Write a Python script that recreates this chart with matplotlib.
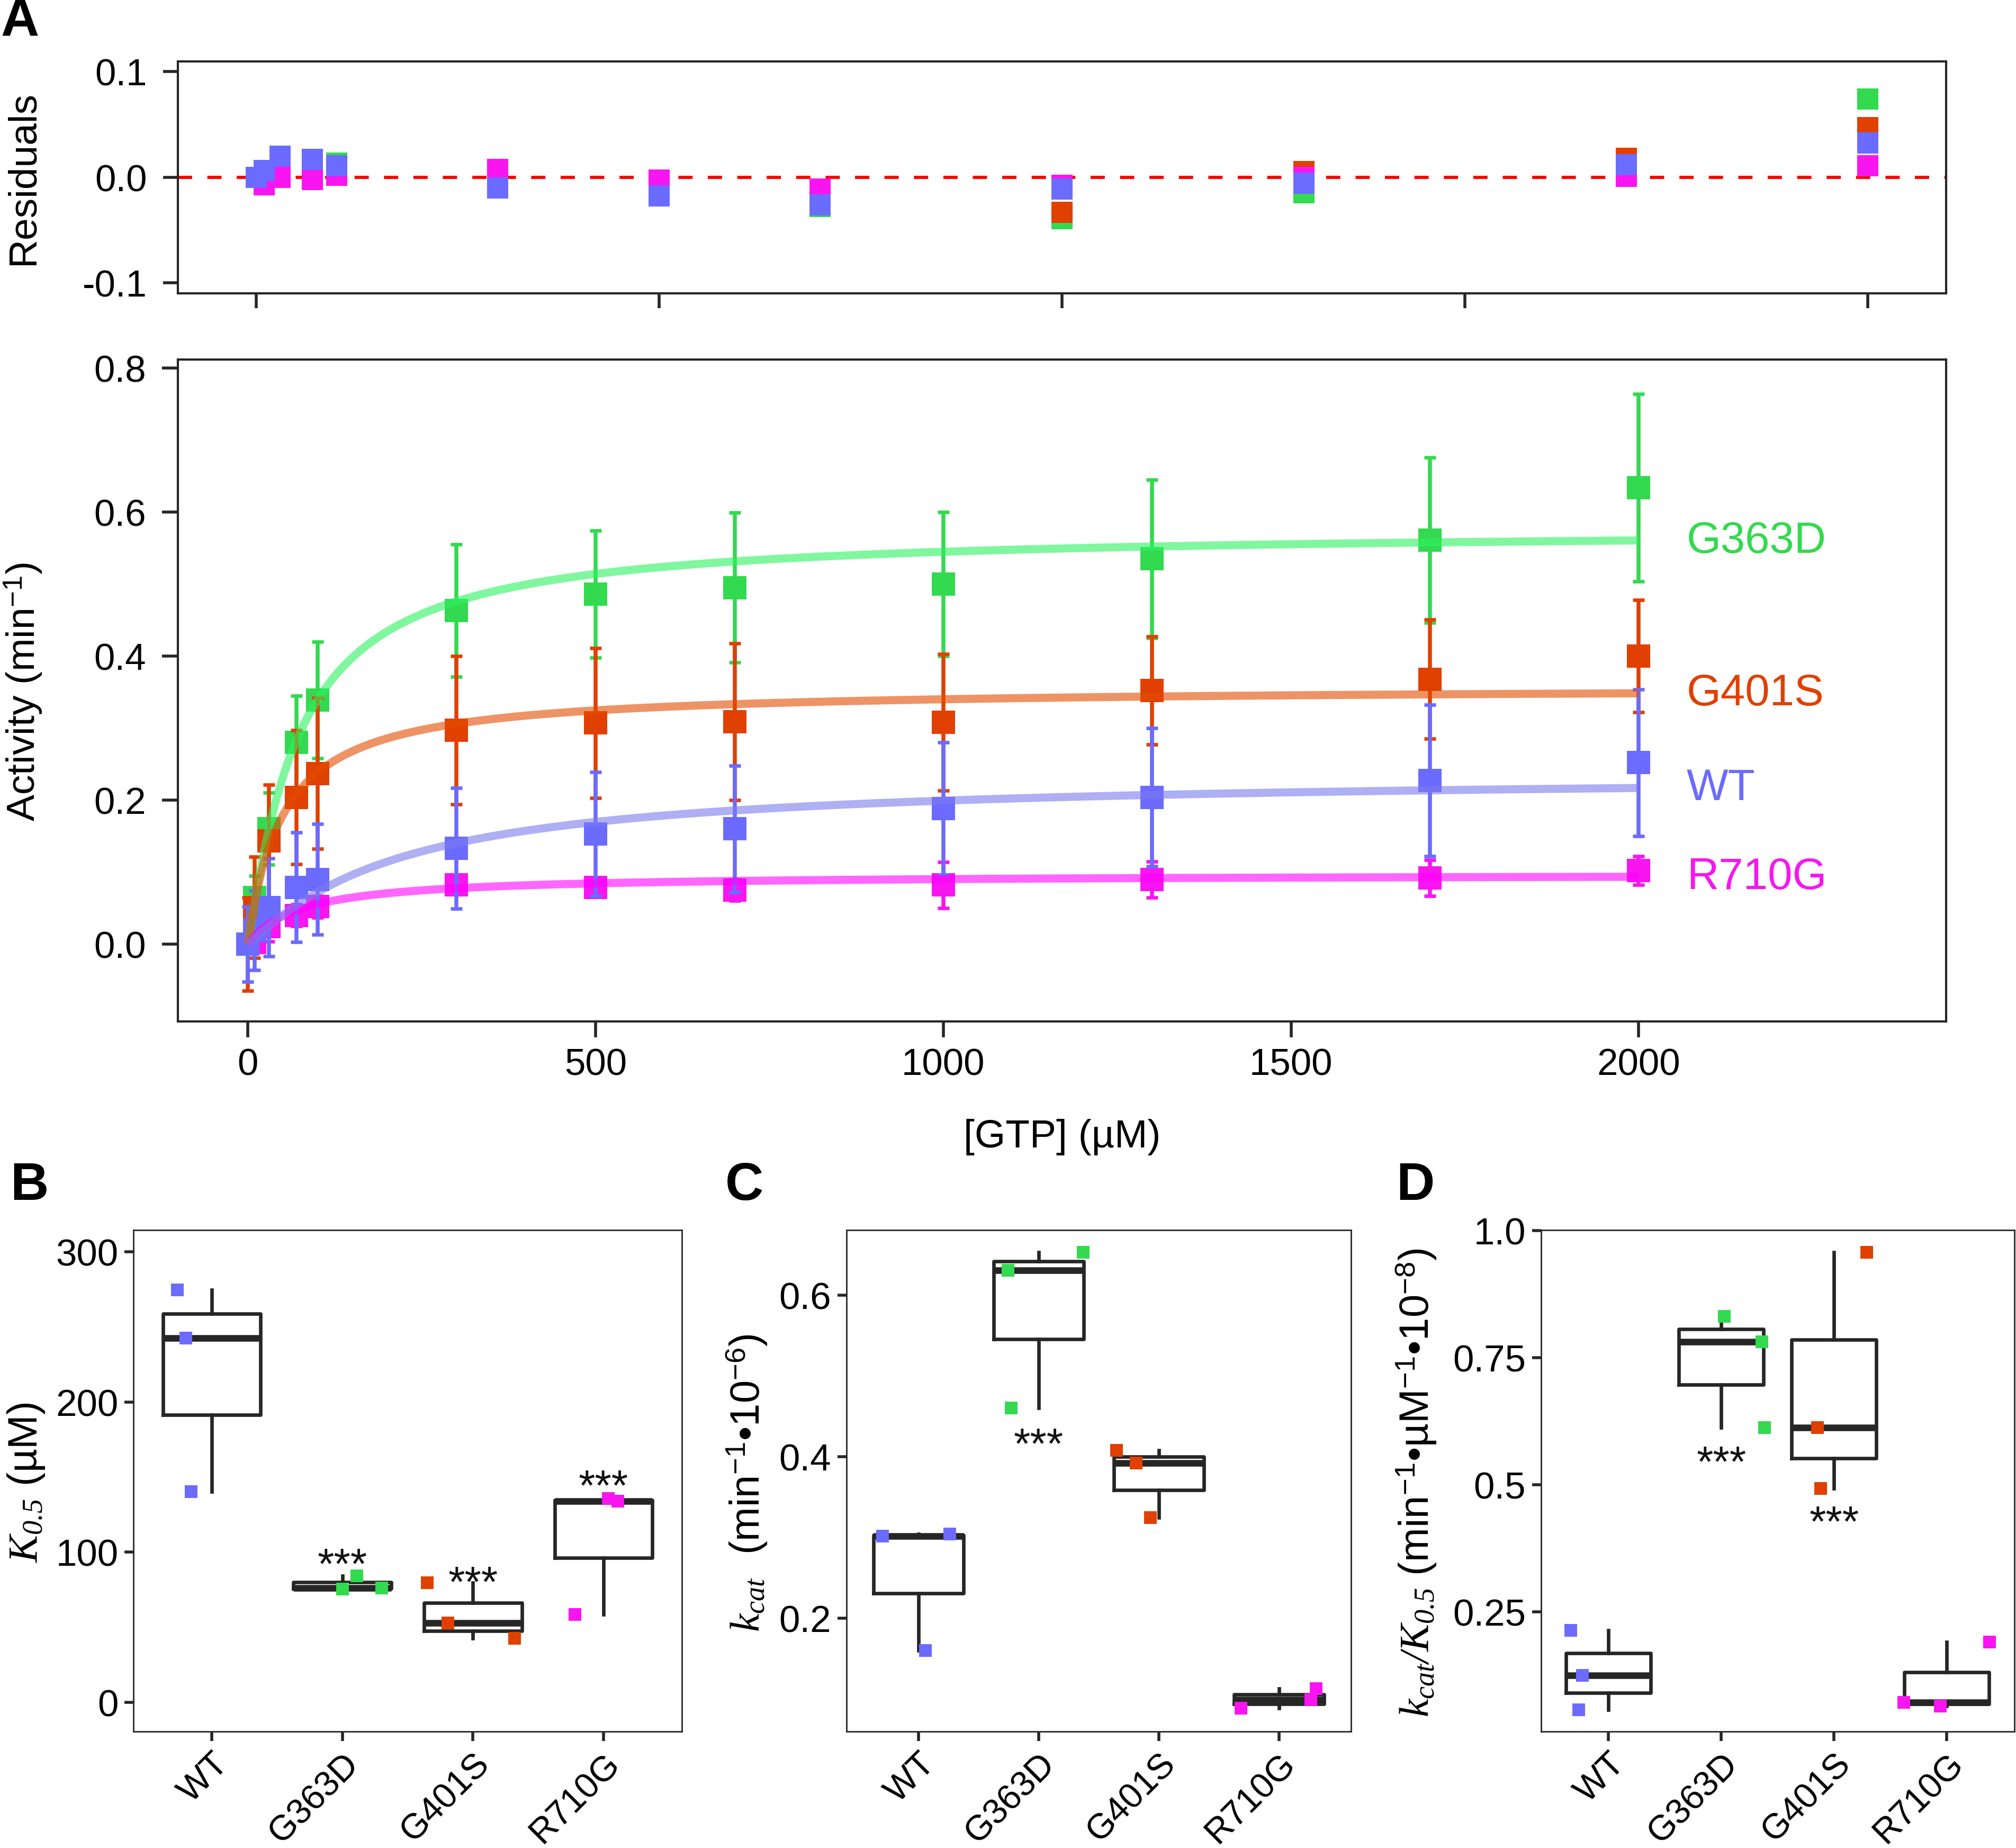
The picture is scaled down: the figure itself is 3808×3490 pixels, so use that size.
import numpy as np
import matplotlib
matplotlib.use("Agg")
import matplotlib.pyplot as plt

# ---------------- data ----------------
gtp_um = [0, 10, 30, 70, 100, 300, 500, 700, 1000, 1300, 1700, 2000]
variants = ["WT", "G363D", "G401S", "R710G"]

act_wt = [0.0, 0.019, 0.051, 0.079, 0.090, 0.133, 0.153, 0.160, 0.188, 0.204, 0.227, 0.252]
err_wt = [0.052, 0.055, 0.068, 0.076, 0.077, 0.084, 0.086, 0.088, 0.092, 0.096, 0.105, 0.102]
act_g363d = [0.0, 0.065, 0.160, 0.280, 0.339, 0.463, 0.486, 0.495, 0.500, 0.535, 0.561, 0.634]
err_g363d = [0.0, 0.030, 0.050, 0.065, 0.081, 0.092, 0.088, 0.104, 0.100, 0.110, 0.115, 0.130]
act_g401s = [0.0, 0.051, 0.143, 0.204, 0.237, 0.297, 0.307, 0.309, 0.308, 0.352, 0.368, 0.400]
err_g401s = [0.065, 0.070, 0.078, 0.093, 0.105, 0.103, 0.104, 0.109, 0.095, 0.075, 0.083, 0.078]
act_r710g = [0.0, 0.002, 0.024, 0.040, 0.052, 0.082, 0.079, 0.075, 0.082, 0.090, 0.092, 0.102]
err_r710g = [0.005, 0.010, 0.020, 0.015, 0.015, 0.012, 0.012, 0.015, 0.032, 0.025, 0.025, 0.020]

# fitted curve parameters (Vmax, K0.5, Hill n) read from the drawn fits
fit_wt = (0.235, 210, 1.1)
fit_g363d = (0.575, 72, 1.1)
fit_g401s = (0.357, 50, 1.0)
fit_r710g = (0.097, 75, 1.0)

res_wt = [0.0, 0.0065, 0.0197, 0.017, 0.011, -0.0101, -0.0176, -0.0265, -0.0114, -0.006, 0.012, 0.0325]
res_g363d = [0.0, 0.0, 0.0, 0.005, 0.0134, -0.005, -0.015, -0.028, -0.0395, -0.015, 0.010, 0.074]
res_g401s = [0.0, 0.0, 0.005, 0.010, 0.010, 0.002, -0.018, -0.020, -0.0335, 0.0055, 0.018, 0.047]
res_r710g = [0.0, -0.0072, 0.0, -0.0024, 0.002, 0.0074, -0.003, -0.0114, -0.008, -0.0003, 0.0007, 0.011]

# panel B: K0.5 (uM), three replicates per variant + horizontal jitter
k05 = {"WT": [274.9, 242.7, 140.2], "G363D": [75.5, 84.1, 76.0],
       "G401S": [79.6, 52.8, 42.5], "R710G": [58.5, 135.7, 133.9]}
k05_jit = {"WT": [-0.265, -0.20, -0.157], "G363D": [0.0, 0.11, 0.30],
           "G401S": [-0.35, -0.19, 0.32], "R710G": [-0.22, 0.035, 0.108]}
# panel C: kcat
kcat = {"WT": [0.3015, 0.3038, 0.160], "G363D": [0.6307, 0.6533, 0.4603],
        "G401S": [0.408, 0.392, 0.3246], "R710G": [0.0883, 0.0985, 0.1125]}
kcat_jit = {"WT": [-0.30, 0.26, 0.058], "G363D": [-0.254, 0.373, -0.228],
            "G401S": [-0.35, -0.19, -0.07], "R710G": [-0.315, 0.264, 0.31]}
# panel D: kcat/K0.5
eff = {"WT": [0.2135, 0.1244, 0.0567], "G363D": [0.8318, 0.782, 0.6127],
       "G401S": [0.613, 0.9576, 0.4924], "R710G": [0.0718, 0.0647, 0.1905]}
eff_jit = {"WT": [-0.334, -0.23, -0.262], "G363D": [0.025, 0.36, 0.385],
           "G401S": [-0.145, 0.29, -0.117], "R710G": [-0.38, -0.058, 0.377]}

# significance stars (variant, y)
stars_b = [("G363D", 100), ("G401S", 88), ("R710G", 152)]
stars_c = [("G363D", 0.43)]
stars_d = [("G363D", 0.568), ("G401S", 0.45)]

# ---------------- style ----------------
plt.rcParams["font.family"] = ["Liberation Sans", "DejaVu Sans"]
plt.rcParams["mathtext.fontset"] = "custom"
plt.rcParams["mathtext.rm"] = "Liberation Sans"
plt.rcParams["mathtext.it"] = "Liberation Serif:italic"
plt.rcParams["mathtext.sf"] = "Liberation Serif:italic"
plt.rcParams["mathtext.bf"] = "Liberation Sans:bold"
plt.rcParams["axes.unicode_minus"] = False

colors = {"WT": "#6B6BFF", "G363D": "#33D94F", "G401S": "#E04000", "R710G": "#F815F0"}
curve_cols = {"WT": "#7B7BEE", "G363D": "#2BF360", "G401S": "#E44C00", "R710G": "#FF00FF"}
dark = "#262626"
W, H = 3808, 3491


def hill(x, vmax, k, n):
    x = np.asarray(x, float)
    return vmax * x ** n / (k ** n + x ** n)


def ax_px(l, t, r, b):
    return fig.add_axes([l / W, 1 - b / H, (r - l) / W, (b - t) / H])


def style_spines(ax, lw=1.5):
    for s in ax.spines.values():
        s.set_linewidth(lw)
        s.set_color(dark)


fig = plt.figure(figsize=(W / 200, H / 200), dpi=200)

act = {"WT": act_wt, "G363D": act_g363d, "G401S": act_g401s, "R710G": act_r710g}
err = {"WT": err_wt, "G363D": err_g363d, "G401S": err_g401s, "R710G": err_r710g}
fits = {"WT": fit_wt, "G363D": fit_g363d, "G401S": fit_g401s, "R710G": fit_r710g}
res = {"WT": res_wt, "G363D": res_g363d, "G401S": res_g401s, "R710G": res_r710g}
draw_order = ["G363D", "G401S", "R710G", "WT"]

# ---------------- residuals ----------------
axr = ax_px(336, 117, 3676, 555)
axr.axhline(0, color="#FF0000", lw=2.2, linestyle=(0, (4.4, 4.7)), zorder=1)
for v in draw_order:
    axr.plot(gtp_um, res[v], "s", color=colors[v], ms=14.4, mew=0, zorder=2)
axr.set_xlim(-97, 2097)
axr.set_ylim(-0.110, 0.1095)
axr.set_xticks([0, 500, 1000, 1500, 2000])
axr.set_yticks([-0.1, 0.0, 0.1], ["-0.1", "0.0", "0.1"])
axr.tick_params(axis="x", labelbottom=False, length=10, width=2, color=dark)
axr.tick_params(axis="y", length=10, width=2, color=dark, labelsize=25.5, pad=11)
style_spines(axr)

# ---------------- main activity panel ----------------
axm = ax_px(336, 680, 3676, 1930)
xs = np.linspace(0, 2000, 400)
for v in draw_order:
    axm.errorbar(gtp_um, act[v], yerr=err[v], fmt="none", ecolor=colors[v],
                 elinewidth=2.7, capsize=3.8, capthick=2.4, zorder=2)
    axm.plot(gtp_um, act[v], "s", color=colors[v], ms=15.5, mew=0, zorder=2)
for v in draw_order:
    axm.plot(xs, hill(xs, *fits[v]), color=curve_cols[v], lw=5.5, alpha=0.6,
             solid_capstyle="butt", zorder=3)
    axm.text(2069, hill(2000, *fits[v]), v, color=colors[v], fontsize=30,
             ha="left", va="center")
axm.set_xlim(-100.6, 2442)
axm.set_ylim(-0.1074, 0.8118)
axm.set_xticks([0, 500, 1000, 1500, 2000])
axm.set_yticks([0.0, 0.2, 0.4, 0.6, 0.8], ["0.0", "0.2", "0.4", "0.6", "0.8"])
axm.tick_params(axis="x", length=10.8, width=2, color=dark, labelsize=25.5, pad=7)
axm.tick_params(axis="y", length=10.8, width=2, color=dark, labelsize=25.5, pad=11)
style_spines(axm)

fig.text(44 / W, 1 - 335 / H, "Residuals", rotation=90, ha="center", va="center", fontsize=27)
fig.text(44 / W, 1 - 1307 / H, "Activity (min$^{-1}$)", rotation=90, ha="center", va="center",
         fontsize=27)
fig.text(2006 / W, 1 - 2147 / H, "[GTP] (µM)", ha="center", va="center", fontsize=27)


# ---------------- box panels ----------------
def box_panel(ax, vals, jit, ylim, yticks, yticklabels, stars):
    data = [vals[v] for v in variants]
    ax.boxplot(data, positions=[1, 2, 3, 4], widths=0.75, whis=(0, 100), showfliers=False,
               showcaps=False,
               boxprops=dict(color=dark, lw=2.4),
               whiskerprops=dict(color=dark, lw=2.4),
               medianprops=dict(color=dark, lw=4.5, solid_capstyle="butt"))
    for i, v in enumerate(variants):
        ax.plot(i + 1 + np.array(jit[v]), vals[v], "s", color=colors[v], ms=8.3, mew=0, zorder=4)
    for v, y in stars:
        ax.annotate("***", (variants.index(v) + 1, y), xytext=(0, -0.59 * 29),
                    textcoords="offset points", ha="center", va="baseline", fontsize=29,
                    color="#111111")
    ax.set_xlim(0.4, 4.6)
    ax.set_ylim(*ylim)
    ax.set_yticks(yticks, yticklabels)
    ax.set_xticks([1, 2, 3, 4], variants, rotation=45, ha="right", va="top",
                  rotation_mode="anchor")
    ax.tick_params(axis="y", length=6.3, width=2, color=dark, labelsize=25.5, pad=4)
    ax.tick_params(axis="x", length=6.3, width=2, color=dark, labelsize=24, pad=4)
    style_spines(ax, lw=1.0)


axb = ax_px(252, 2323.5, 1288, 3271.4)
box_panel(axb, k05, k05_jit, (-19.6, 314.8), [0, 100, 200, 300], ["0", "100", "200", "300"], stars_b)
axc = ax_px(1598.5, 2323.5, 2552, 3271.4)
box_panel(axc, kcat, kcat_jit, (0.0591, 0.681), [0.2, 0.4, 0.6], ["0.2", "0.4", "0.6"], stars_c)
axd = ax_px(2910.5, 2323.5, 3805, 3271.4)
box_panel(axd, eff, eff_jit, (0.0139, 1.002), [0.25, 0.5, 0.75, 1.0],
          ["0.25", "0.5", "0.75", "1.0"], stars_d)

fig.text(50 / W, 1 - 2800 / H, r"$K_{\mathsf{0.5}}$ (µM)", rotation=90, ha="center",
         va="center", fontsize=28)
fig.text(1410 / W, 1 - 2801 / H, r"$k_{cat}$  (min$^{-1}$•10$^{-6}$)", rotation=90,
         ha="center", va="center", fontsize=28)
fig.text(2675 / W, 1 - 2800 / H,
         r"$k_{cat}\mathsf{/}K_{\mathsf{0.5}}$ (min$^{-1}$•µM$^{-1}$•10$^{-8}$)",
         rotation=90, ha="center", va="center", fontsize=28)

# panel letters
for lab, cx, cy in [("A", 38, 42), ("B", 55, 2240), ("C", 1406, 2240), ("D", 2673, 2240)]:
    fig.text(cx / W, 1 - cy / H, lab, ha="center", va="center", fontsize=36, fontweight="bold")

fig.savefig("out.png", dpi=200)
